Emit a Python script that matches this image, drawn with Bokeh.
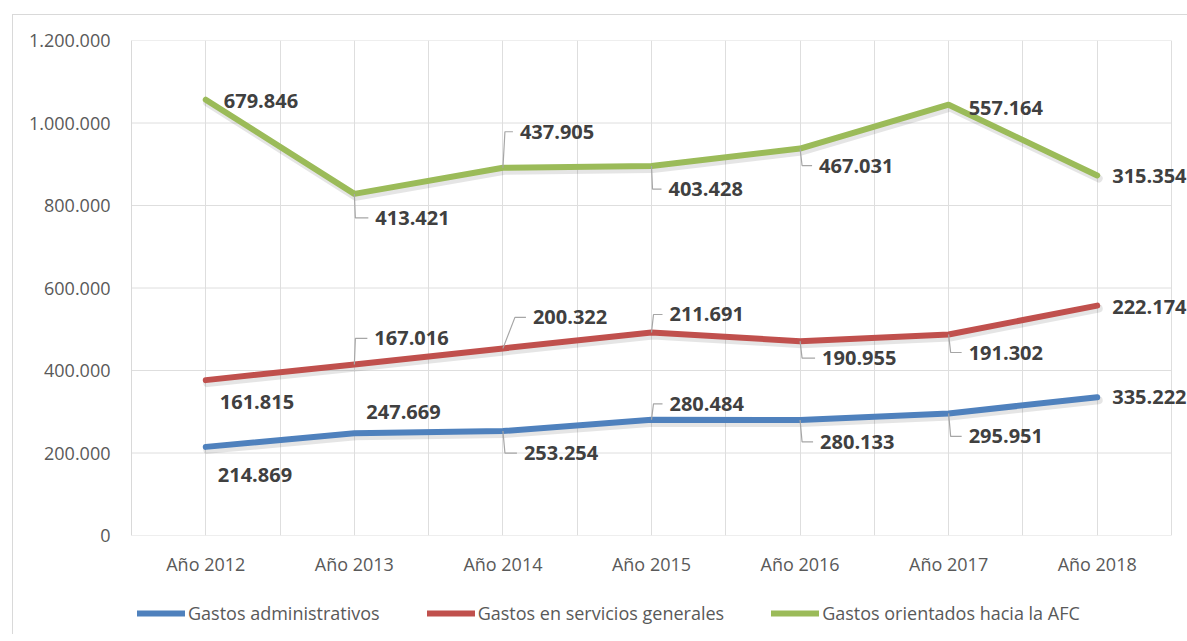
from bokeh.plotting import figure
from bokeh.layouts import column
from bokeh.models import Range1d, FixedTicker, Legend, LegendItem
from bokeh.core.properties import value
from bokeh.embed import file_html
from bokeh.resources import INLINE

# ---------------- data ----------------
years = ["Año 2012", "Año 2013", "Año 2014", "Año 2015", "Año 2016", "Año 2017", "Año 2018"]
admin = [214869, 247669, 253254, 280484, 280133, 295951, 335222]
servicios = [161815, 167016, 200322, 211691, 190955, 191302, 222174]
afc = [679846, 413421, 437905, 403428, 467031, 557164, 315354]
series_names = ["Gastos administrativos", "Gastos en servicios generales", "Gastos orientados hacia la AFC"]
y_ticks = [0, 200000, 400000, 600000, 800000, 1000000, 1200000]

# ---------------- styles ----------------
colors = ["#4f81bd", "#c0504d", "#9bbb59"]
# label offsets in screen px: (dx to text left, dy to text centre (down +), leader elbow dx or None)
lab_admin = [(12, 28, None), (12, -21, None), (21, 22, 2), (18, -16, 2), (20, 22, 2), (20, 23, 2), (15, 0, None)]
lab_serv = [(14, 22, None), (20, -26, 1), (30, -31, 12), (18, -18, 2), (22, 17, 2), (20, 18, 2), (15, 1, None)]
lab_afc = [(18, 1, None), (21, 24, 1), (17, -36, 2), (17, 23, 1), (19, 17, 2), (20, 3, None), (15, 1, None)]

W, H = 1175, 574
LB, RB, TB, BB = 118, 0, 25, 54
core_w = 1040          # width of the chart's plotting area (categories)
frame_w = W - LB - RB
frame_h = H - TB - BB
x_min = -0.5
x_core_max = 6.5
px_x = (x_core_max - x_min) / core_w   # data units per px
x_max = x_min + frame_w * px_x
y_min, y_max = 0, 1200000
px_y = (y_max - y_min) / frame_h

p = figure(width=W, height=H, output_backend="svg", toolbar_location=None,
           x_range=Range1d(x_min, x_max), y_range=Range1d(y_min, y_max),
           min_border_left=LB, min_border_right=RB, min_border_top=TB, min_border_bottom=BB)
p.styles = {"border-top": "1px solid #d9d9d9", "border-left": "1px solid #d9d9d9"}
p.outline_line_color = None
p.background_fill_color = "white"
p.border_fill_color = "white"

xs = list(range(len(years)))

# axes
p.xaxis.ticker = FixedTicker(ticks=xs)
p.xaxis.major_label_overrides = {i: years[i] for i in xs}
p.yaxis.ticker = FixedTicker(ticks=y_ticks)
p.yaxis.major_label_overrides = {t: (f"{t:,}".replace(",", ".")) for t in y_ticks}
for ax in (p.xaxis[0], p.yaxis[0]):
    ax.axis_line_color = "#d9d9d9"
    ax.major_tick_line_color = None
    ax.minor_tick_line_color = None
    ax.major_label_text_font = "Open Sans"
    ax.major_label_text_font_size = "18px"
    ax.major_label_text_color = "#595959"
p.xaxis.axis_line_color = None
p.xaxis.major_label_standoff = 10
p.yaxis.major_label_standoff = 15

# grid
p.xgrid.ticker = FixedTicker(ticks=[x_min + 0.5 * k for k in range(15)])
p.xgrid.grid_line_color = "#dedede"
p.ygrid.grid_line_color = None
p.segment(x0=[x_min] * len(y_ticks), x1=[x_core_max] * len(y_ticks), y0=y_ticks, y1=y_ticks,
          line_color="#dedede", line_width=1)

# stacked series
cum1 = admin
cum2 = [a + s for a, s in zip(admin, servicios)]
cum3 = [c + f for c, f in zip(cum2, afc)]
stack = [cum1, cum2, cum3]
raw = [admin, servicios, afc]
labs = [lab_admin, lab_serv, lab_afc]

# shadows
for cum in stack:
    p.line([x + 1.5 * px_x for x in xs], [v - 3 * px_y for v in cum], line_color="black",
           line_alpha=0.10, line_width=8, line_join="round", line_cap="round")

for cum, col in zip(stack, colors):
    p.line(xs, cum, line_color=col, line_width=6, line_join="round", line_cap="round")

# leader lines and labels
for cum, vals, lab in zip(stack, raw, labs):
    lx, ly, tx, ty, tt = [], [], [], [], []
    for i, (v, c) in enumerate(zip(vals, cum)):
        dx, dy, elbow = lab[i]
        tx.append(i + dx * px_x)
        ty.append(c - dy * px_y)
        tt.append(f"{v:,}".replace(",", "."))
        if elbow is not None:
            lx.append([i, i + elbow * px_x, i + (dx - 7) * px_x])
            ly.append([c, c - dy * px_y, c - dy * px_y])
    if lx:
        p.multi_line(lx, ly, line_color="#a6a6a6", line_width=1.2)
    p.text(x=tx, y=ty, text=tt, text_font=value("Open Sans"), text_font_style="bold",
           text_font_size="20px", text_color="#404040", text_align="left", text_baseline="middle")

# ---------------- legend strip ----------------
LH = 46
pl = figure(width=W, height=LH, output_backend="svg", toolbar_location=None,
            x_range=Range1d(0, 1), y_range=Range1d(0, 1),
            x_axis_location=None, y_axis_location=None,
            min_border_left=0, min_border_right=0, min_border_top=0, min_border_bottom=0)
pl.styles = {"border-left": "1px solid #d9d9d9"}
pl.grid.grid_line_color = None
pl.outline_line_color = None
nan = float("nan")
swatches = [pl.line(x=[nan, nan], y=[nan, nan], line_color=c, line_width=6, line_cap="round")
            for c in colors]
legend = Legend(items=[LegendItem(label=n, renderers=[r]) for n, r in zip(series_names, swatches)],
                orientation="horizontal", location=(6, 9), glyph_width=48, glyph_height=20,
                label_standoff=3, spacing=47, padding=0, margin=0,
                label_text_font="Open Sans", label_text_font_size="18px", label_text_color="#595959",
                background_fill_alpha=0, border_line_color=None)
pl.add_layout(legend, "center")

layout = column(p, pl, spacing=0, margin=(14, 0, 0, 12))
open("out.html", "w").write(file_html(layout, INLINE))
